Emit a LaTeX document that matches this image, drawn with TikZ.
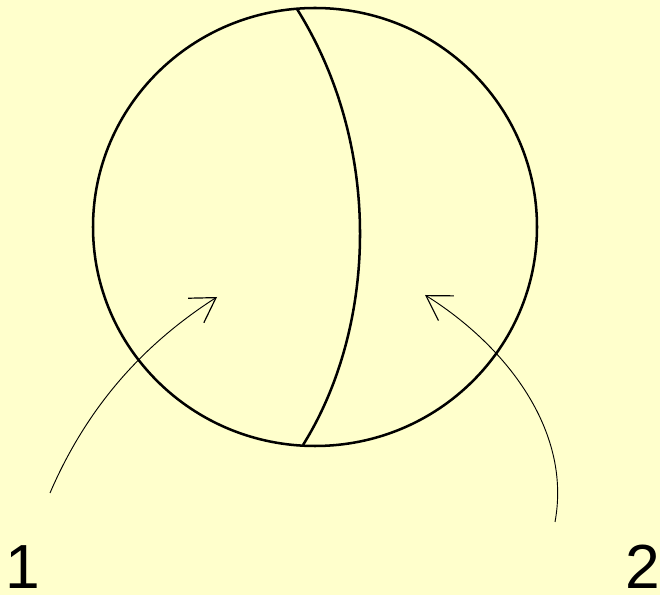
\documentclass[tikz,border=0pt]{standalone}
\usepackage{fontspec}
\setmainfont{Liberation Sans}
\usetikzlibrary{arrows.meta}
\definecolor{paper}{HTML}{FFFFCC}
\tikzset{
  pointer/.style={line width=0.7pt,-{Straight Barb[length=18pt,width=22pt,line width=0.9pt]}},
  partlabel/.style={font=\fontsize{47}{50}\selectfont,inner sep=0pt,anchor=base west}
}
\begin{document}
\begin{tikzpicture}[x=0.0265cm,y=-0.0265cm]
\fill[paper] (0,0) rectangle (660,595);
\useasboundingbox (0,0) rectangle (660,595);
\draw[line width=1.9pt] (315,227) circle[x radius=222,y radius=219];
\draw[line width=1.9pt] (297,9) .. controls (385,150) and (375,330) .. (303,445);
\node[partlabel] (one) at (5,588) {1};
\node[partlabel] (two) at (625,588) {2};
\coordinate (t1) at (50,493);
\coordinate (h1) at (217,297);
\coordinate (t2) at (555,522);
\coordinate (h2) at (425,295);
\draw[pointer] (t1) .. controls (90,400) and (150,340) .. (h1);
\draw[pointer] (t2) .. controls (572,430) and (505,345) .. (h2);
\end{tikzpicture}
\end{document}
